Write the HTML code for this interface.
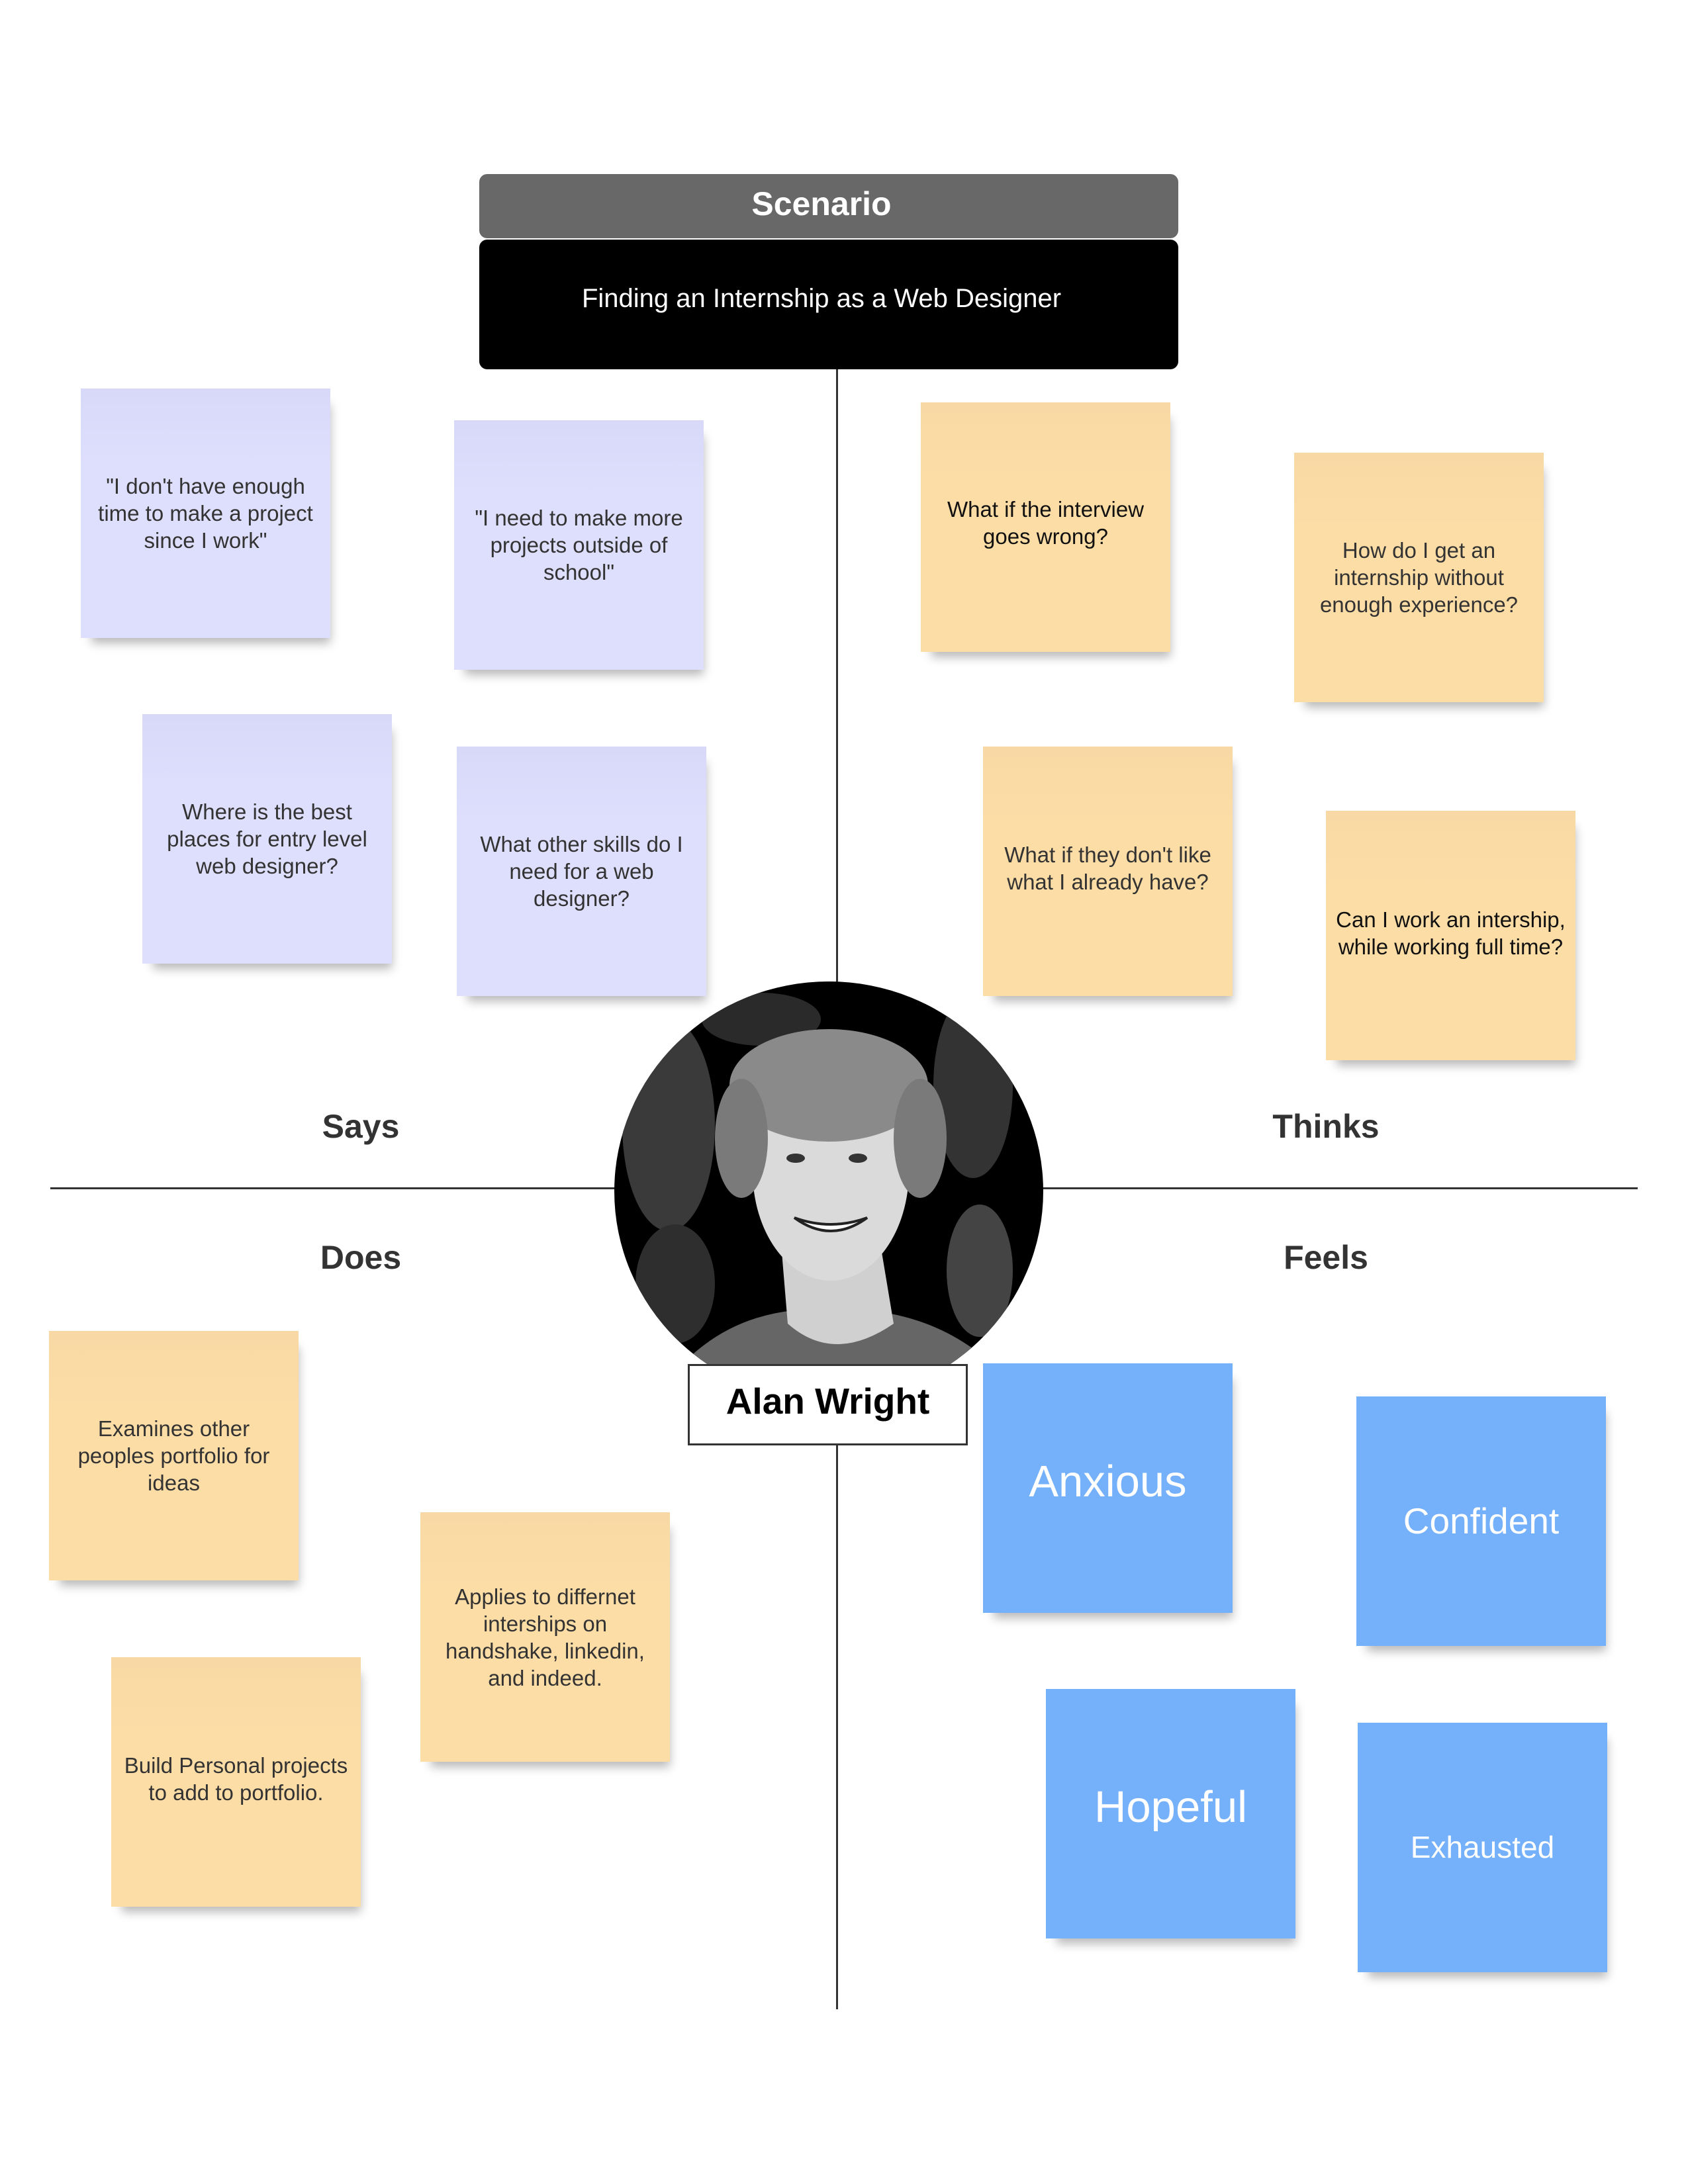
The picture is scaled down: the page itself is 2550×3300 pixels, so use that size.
<!DOCTYPE html>
<html><head><meta charset="utf-8"><style>
body{margin:0;width:2550px;height:3300px;background:#fff;position:relative;overflow:hidden;font-family:"Liberation Sans",Arial,sans-serif;}
.a{position:absolute;}
.s{position:absolute;width:377px;height:377px;display:flex;align-items:center;justify-content:center;text-align:center;font-size:33px;line-height:41px;color:#333;box-shadow:8px 16px 14px -8px rgba(0,0,0,0.28);box-sizing:border-box;padding:0 20px;}
.p{background:linear-gradient(#d8d8f8,#dedefd 30%);}
.o{background:linear-gradient(#f8d8a4,#fddda6 30%);color:#111;}
.b{background:#75b0fb;color:#fff;padding:0 10px;}
.l{position:absolute;font-weight:bold;font-size:50px;color:#333;transform:translate(-50%,-50%);white-space:nowrap;}
</style></head><body>
<div class="a" style="left:1263px;top:558px;width:3px;height:930px;background:#333"></div>
<div class="a" style="left:1263px;top:2184px;width:3px;height:852px;background:#333"></div>
<div class="a" style="left:76px;top:1794px;width:2398px;height:3px;background:#333"></div>

<div class="a" style="left:724px;top:263px;width:1056px;height:97px;background:#686868;border-radius:12px;color:#fff;font-weight:bold;font-size:50px;display:flex;align-items:center;justify-content:center;padding:0 22px 8px 0;box-sizing:border-box">Scenario</div>
<div class="a" style="left:724px;top:362px;width:1056px;height:196px;background:#000;border-radius:12px;color:#fff;font-size:40px;display:flex;align-items:center;justify-content:center;padding:0 22px 18px 0;box-sizing:border-box">Finding an Internship as a Web Designer</div>

<div class="s p" style="left:122px;top:587px">"I don't have enough time to make a project since I work"</div>
<div class="s p" style="left:686px;top:635px">"I need to make more projects outside of school"</div>
<div class="s p" style="left:215px;top:1079px">Where is the best places for entry level web designer?</div>
<div class="s p" style="left:690px;top:1128px">What other skills do I need for a web designer?</div>

<div class="s o" style="left:1391px;top:608px;padding-bottom:14px">What if the interview goes wrong?</div>
<div class="s o" style="left:1955px;top:684px;color:#333">How do I get an internship without enough experience?</div>
<div class="s o" style="left:1485px;top:1128px;color:#333;padding-bottom:10px">What if they don't like what I already have?</div>
<div class="s o" style="left:2003px;top:1225px;padding:0 8px 8px">Can I work an intership, while working full time?</div>

<div class="s o" style="left:74px;top:2011px;color:#333">Examines other peoples portfolio for ideas</div>
<div class="s o" style="left:635px;top:2285px;color:#333">Applies to differnet interships on handshake, linkedin, and indeed.</div>
<div class="s o" style="left:168px;top:2504px;color:#333;padding:0 6px 10px">Build Personal projects to add to portfolio.</div>

<div class="s b" style="left:1485px;top:2060px;font-size:67px;padding-bottom:20px">Anxious</div>
<div class="s b" style="left:2049px;top:2110px;font-size:55px">Confident</div>
<div class="s b" style="left:1580px;top:2552px;font-size:67px;padding-bottom:20px">Hopeful</div>
<div class="s b" style="left:2051px;top:2603px;font-size:46px">Exhausted</div>

<div class="l" style="left:545px;top:1702px">Says</div>
<div class="l" style="left:2003px;top:1702px">Thinks</div>
<div class="l" style="left:545px;top:1900px">Does</div>
<div class="l" style="left:2003px;top:1900px">Feels</div>

<svg class="a" style="left:0;top:0" width="2550" height="3300">
<defs><clipPath id="c"><rect x="0" y="0" width="2550" height="2062"/></clipPath>
<clipPath id="e"><ellipse cx="1252" cy="1800" rx="324" ry="317"/></clipPath></defs>
<g clip-path="url(#c)"><g clip-path="url(#e)">
<rect x="900" y="1470" width="700" height="700" fill="#000"/>
<ellipse cx="1010" cy="1700" rx="70" ry="160" fill="#3a3a3a"/>
<ellipse cx="1470" cy="1640" rx="60" ry="140" fill="#333"/>
<ellipse cx="1150" cy="1540" rx="90" ry="40" fill="#2a2a2a"/>
<ellipse cx="1020" cy="1940" rx="60" ry="90" fill="#2e2e2e"/>
<ellipse cx="1480" cy="1920" rx="50" ry="100" fill="#444"/>
<path d="M1030 2062 Q1100 1990 1200 1980 L1310 1980 Q1420 1990 1500 2062Z" fill="#666"/>
<path d="M1180 1880 L1330 1880 L1350 2000 Q1260 2062 1190 2000Z" fill="#d0d0d0"/>
<ellipse cx="1255" cy="1770" rx="118" ry="165" fill="#dadada"/>
<ellipse cx="1252" cy="1640" rx="150" ry="85" fill="#8a8a8a"/>
<ellipse cx="1120" cy="1720" rx="40" ry="90" fill="#7a7a7a"/>
<ellipse cx="1390" cy="1720" rx="40" ry="90" fill="#7a7a7a"/>
<path d="M1200 1840 Q1255 1880 1310 1840 Q1255 1860 1200 1840Z" fill="#fff" stroke="#222" stroke-width="4"/>
<ellipse cx="1202" cy="1750" rx="14" ry="7" fill="#333"/>
<ellipse cx="1296" cy="1750" rx="14" ry="7" fill="#333"/>
</g></g>
</svg>
<div class="a" style="left:1039px;top:2061px;width:423px;height:123px;border:3px solid #333;box-sizing:border-box;background:#fff;display:flex;align-items:center;justify-content:center;font-weight:bold;font-size:55px;color:#000;padding-bottom:12px">Alan Wright</div>
</body></html>
